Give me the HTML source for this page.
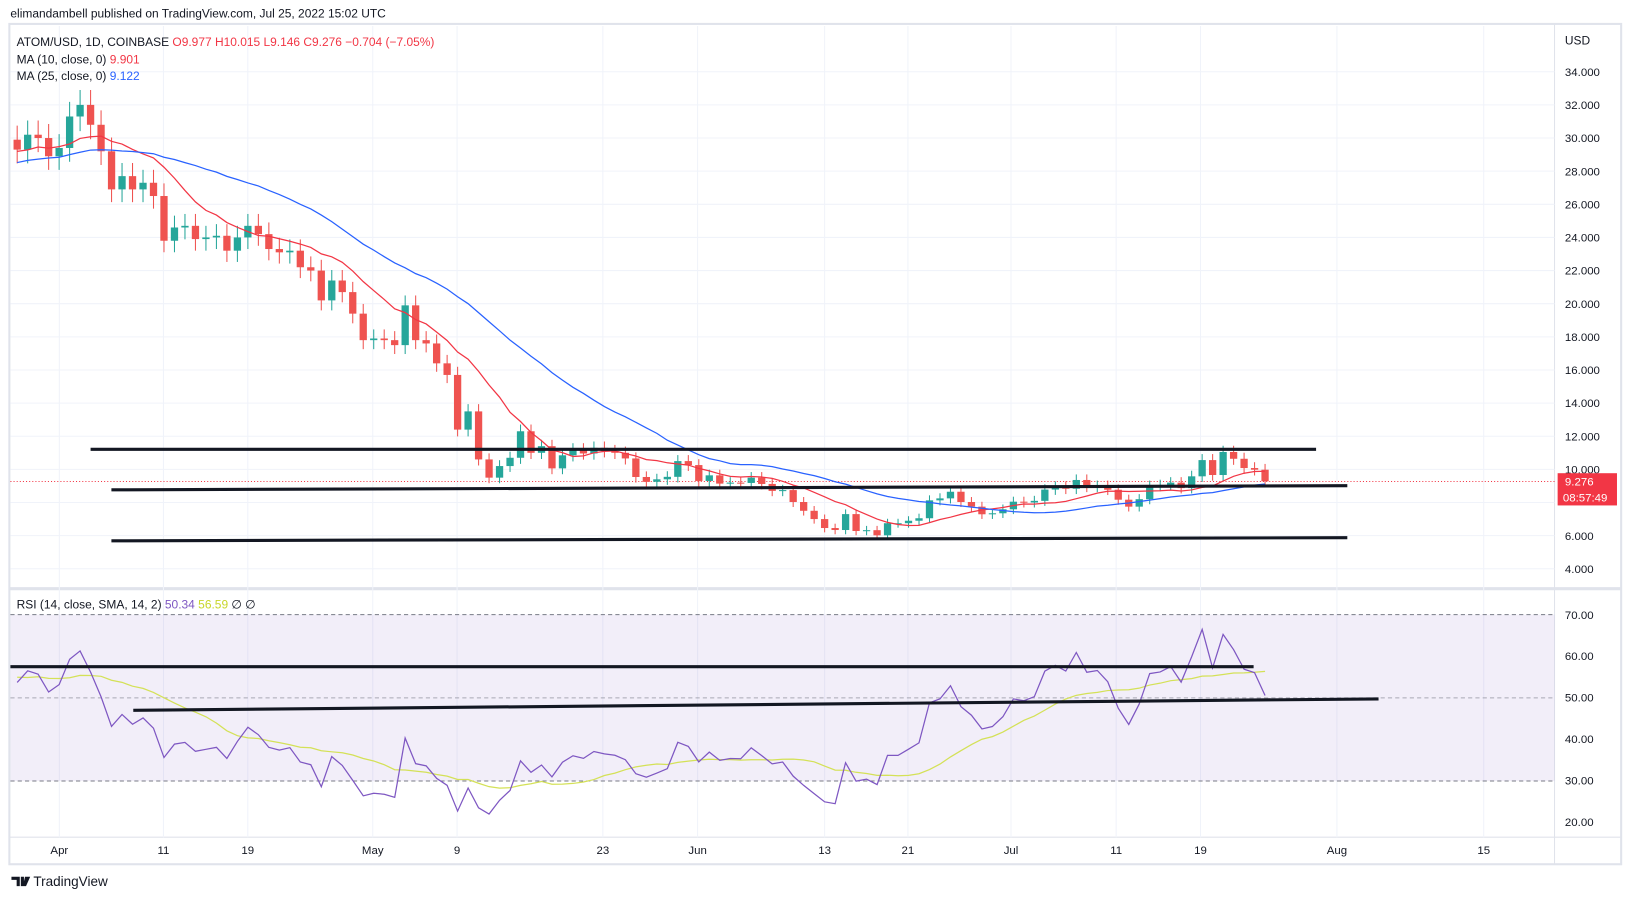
<!DOCTYPE html>
<html><head><meta charset="utf-8"><style>
html,body{margin:0;padding:0;background:#fff;width:1633px;height:901px;overflow:hidden;font-family:"Liberation Sans",sans-serif}
svg text{font-family:"Liberation Sans",sans-serif}
</style></head><body>
<svg id="s" width="1633" height="901" xmlns="http://www.w3.org/2000/svg">
<rect x="0" y="0" width="1633" height="901" fill="#fff"/>
<defs><clipPath id="cp"><rect x="10" y="25" width="1483" height="778"/></clipPath></defs>
<g transform="scale(1.0412,1.04)">
<text x="10" y="17" font-size="11.5" fill="#131722">elimandambell published on TradingView.com, Jul 25, 2022 15:02 UTC</text>
<rect x="9" y="23" width="1548" height="808" fill="none" stroke="#e0e3eb" stroke-width="2"/>
<line x1="1493" y1="23" x2="1493" y2="831" stroke="#e0e3eb"/>
<line x1="9" y1="566" x2="1557" y2="566" stroke="#e0e3eb" stroke-width="3"/>
<line x1="9" y1="805" x2="1557" y2="805" stroke="#e0e3eb"/>
<g id="grid"></g>
<rect x="10" y="591" width="1483" height="160" fill="#7e57c2" fill-opacity="0.1"/>
<line x1="10" y1="591" x2="1493" y2="591" stroke="#787b86" stroke-dasharray="4,3"/>
<line x1="10" y1="671" x2="1493" y2="671" stroke="#787b86" stroke-dasharray="4,3" stroke-opacity="0.6"/>
<line x1="10" y1="751" x2="1493" y2="751" stroke="#787b86" stroke-dasharray="4,3"/>
<line x1="10" y1="463" x2="1493" y2="463" stroke="#f23645" stroke-dasharray="1,2"/>
<g id="c" clip-path="url(#cp)"></g>
<g stroke="#131722" stroke-width="3">
<line x1="87" y1="432" x2="1264" y2="432"/>
<line x1="107" y1="471" x2="1294" y2="467"/>
<line x1="107" y1="520" x2="1294" y2="517"/>
<line x1="10" y1="641" x2="1204" y2="641"/>
<line x1="128" y1="683" x2="1324" y2="672"/>
</g>
<g font-size="11.5" fill="#131722">
<text x="16" y="44">ATOM/USD, 1D, COINBASE <tspan fill="#f23645">O9.977 H10.015 L9.146 C9.276 −0.704 (−7.05%)</tspan></text>
<text x="16" y="61">MA (10, close, 0) <tspan fill="#f23645">9.901</tspan></text>
<text x="16" y="77">MA (25, close, 0) <tspan fill="#2962ff">9.122</tspan></text>
<text x="16" y="585">RSI (14, close, SMA, 14, 2) <tspan fill="#7e57c2">50.34</tspan> <tspan fill="#c8d62a">56.59</tspan> ∅ ∅</text>
<text x="1503" y="43">USD</text>
</g>
<g id="ax" font-size="11" fill="#131722"></g>
<rect x="1496" y="455" width="57" height="31" fill="#f23645"/>
<text x="1503" y="467" font-size="11" fill="#fff">9.276</text>
<text x="1501" y="482" font-size="11" fill="#fff">08:57:49</text>
<path d="M11 843h8v9h-3v-6h-5zM20 843h3v9h-3zM24 843h5l-4 9h-3z" fill="#131722"/>
<text x="32" y="852" font-size="13" fill="#131722">TradingView</text>
</g>
</svg>
<script>
var C=[29.3,30.2,30.0,28.9,
29.4,31.3,32.0,30.8,29.2,26.9,27.7,26.9,27.3,26.5,23.8,24.6,24.7,23.9,24.0,24.1,23.2,24.0,24.7,24.2,23.3,23.1,23.2,22.2,22.0,20.2,21.4,20.7,19.4,17.8,
17.9,17.8,17.5,19.9,17.8,17.6,16.4,15.7,12.4,13.5,10.6,9.5,10.2,10.7,12.3,11.0,11.4,10.06,10.85,11.2,10.96,11.3,11.1,11.0,10.66,9.54,9.25,9.4,9.55,10.5,10.26,
9.3,9.64,9.14,9.2,9.18,9.5,9.12,8.7,8.75,8.03,7.5,7.0,6.46,6.34,7.3,6.28,6.33,6.02,6.75,6.75,6.9,7.05,8.13,8.25,8.65,8.03,7.75,7.29,7.35,7.59,
8.05,8.0,8.1,8.78,8.95,8.83,9.36,8.95,9.0,8.77,8.17,7.75,8.2,9.0,9.05,9.2,8.87,9.58,10.56,9.66,11.05,10.64,10.08,9.98,9.28];
var H=[];for(var i=0;i<30;i++)H.push(27+i*0.085+((i%2)?0.55:-0.55));
var A=H.concat(C),K=H.length;
var N=C.length,dx=(1215-16.5)/(N-1),x0=16.5;
function py(p){return 69+(34-p)*15.93}
function ry(r){return 591+(70-r)*3.98}
var s='',g='',a='';
for(var p=4;p<=34;p+=2){var y=py(p);g+='<line x1="10" y1="'+y+'" x2="1493" y2="'+y+'" stroke="#f0f3fa"/>';if(p!=8)a+='<text x="1503" y="'+(y+4)+'">'+p.toFixed(3)+'</text>';}
[20,30,40,50,60,70].forEach(function(r){a+='<text x="1503" y="'+(ry(r)+4)+'">'+r+'.00</text>'});
var L=[['Apr',57],['11',157],['19',238],['May',358],['9',439],['23',579],['Jun',670],['13',792],['21',872],['Jul',971],['11',1072],['19',1153],['Aug',1284],['15',1425]];
L.forEach(function(l){g+='<line x1="'+l[1]+'" y1="25" x2="'+l[1]+'" y2="805" stroke="#f0f3fa"/>';a+='<text x="'+l[1]+'" y="821" text-anchor="middle">'+l[0]+'</text>'});
var prev=29.9;
for(var i=0;i<N;i++){var o=prev,c=C[i],x=x0+i*dx,up=c>=o,col=up?'#26a69a':'#ef5350';
var h=Math.max(o,c)*1.025+0.1,l=Math.min(o,c)*0.975-0.1;
s+='<line x1="'+x+'" y1="'+py(h)+'" x2="'+x+'" y2="'+py(l)+'" stroke="'+col+'"/>';
var t=py(Math.max(o,c)),b=py(Math.min(o,c));s+='<rect x="'+(x-3.5)+'" y="'+t+'" width="7" height="'+Math.max(1,b-t)+'" fill="'+col+'"/>';prev=c;}
function ma(n,col){var d='';for(var i=0;i<N;i++){var sm=0;for(var j=K+i-n+1;j<=K+i;j++)sm+=A[j];d+=(i?'L':'M')+(x0+i*dx).toFixed(1)+','+py(sm/n).toFixed(1);}s+='<path d="'+d+'" fill="none" stroke="'+col+'" stroke-width="1.2"/>';}
ma(10,'#f23645');ma(25,'#2962ff');
var R=[],ag=0,al=0;
for(var i=1;i<A.length;i++){var ch=A[i]-A[i-1],gg=Math.max(ch,0),ll=Math.max(-ch,0);if(i<=14){ag+=gg/14;al+=ll/14;}else{ag=(ag*13+gg)/14;al=(al*13+ll)/14;}R[i]=100-100/(1+ag/al);}
var d='',e='';for(var i=0;i<N;i++){var k=K+i;d+=(i?'L':'M')+(x0+i*dx).toFixed(1)+','+ry(R[k]).toFixed(1);var sm=0;for(var j=k-13;j<=k;j++)sm+=R[j];e+=(i?'L':'M')+(x0+i*dx).toFixed(1)+','+ry(sm/14).toFixed(1);}
s+='<path d="'+e+'" fill="none" stroke="#d4e157" stroke-width="1.2"/><path d="'+d+'" fill="none" stroke="#7e57c2" stroke-width="1.2"/>';
document.getElementById('c').innerHTML=s;document.getElementById('grid').innerHTML=g;document.getElementById('ax').innerHTML=a;
</script>
</body></html>
